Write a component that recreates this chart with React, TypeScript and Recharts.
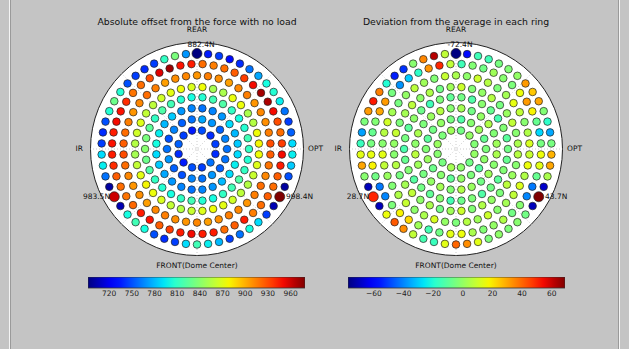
import React from "react";
import { ScatterChart, Scatter, XAxis, YAxis, ReferenceLine, ReferenceArea } from "recharts";

// actuator layout: 8 rings, counted from the centre outward
const ringCounts = [12, 18, 24, 30, 36, 42, 48, 54];
const ringRadius = [73, 115, 157, 199, 238, 282, 326, 366]; // cm
const ringStart = [15, 0, 7.5, 0, 5, 4.2857, 3.75, 90]; // deg of first actuator, counter-clockwise
const fixedIdx = [0, 18, 36]; // fixed points in the outer ring
const mirrorRadius = 410;

// absolute offset (N), one array per ring
const absRing1 = [745, 740, 750, 735, 745, 755, 740, 735, 750, 745, 760, 740];
const absRing2 = [760, 765, 755, 770, 775, 760, 755, 765, 750, 760, 770, 755, 750, 765, 760, 770, 755, 760];
const absRing3 = [785, 780, 790, 770, 765, 760, 765, 770, 785, 780, 795, 800, 790, 785, 775, 770, 765, 760, 765, 770, 780, 790, 795, 790];
const absRing4 = [810, 815, 805, 800, 810, 820, 815, 805, 800, 805, 815, 820, 810, 825, 835, 840, 830, 820, 810, 805, 800, 810, 815, 805, 800, 810, 815, 820, 810, 805];
const absRing5 = [878, 876, 855, 852, 875, 874, 852, 850, 876, 868, 876, 872, 865, 858, 860, 870, 865, 855, 850, 860, 872, 878, 875, 868, 860, 855, 862, 870, 876, 872, 865, 858, 855, 862, 870, 876];
const absRing6 = [930, 915, 910, 912, 908, 915, 912, 905, 910, 915, 908, 912, 910, 905, 915, 920, 912, 908, 915, 920, 925, 930, 920, 912, 908, 910, 905, 912, 915, 910, 908, 912, 905, 910, 915, 912, 908, 915, 920, 912, 918, 925];
const absRing7 = [935, 920, 930, 950, 968, 970, 950, 935, 925, 920, 915, 920, 945, 948, 972, 955, 930, 920, 918, 940, 948, 950, 945, 948, 945, 940, 925, 920, 918, 922, 945, 948, 925, 935, 945, 950, 945, 945, 920, 925, 945, 915, 920, 925, 920, 925, 945, 950];
const absRing8 = [692, 770, 835, 810, 745, 740, 745, 750, 805, 830, 805, 750, 740, 745, 790, 795, 760, 700, 960, 705, 800, 815, 800, 750, 740, 745, 790, 815, 795, 780, 745, 760, 800, 790, 745, 705, 979, 700, 750, 785, 795, 790, 755, 745, 760, 795, 805, 800, 775, 760, 740, 730, 745, 735];

// deviation from the ring average (N)
const devRing1 = [-3, 0, -6, 2, -4, 1, -2, -5, 3, -1, -6, 0];
const devRing2 = [-4, -8, 2, -2, -12, -5, 0, -6, -10, -3, 1, -7, -2, -9, 0, -4, -11, -1];
const devRing3 = [2, -3, 5, 0, -6, 3, -2, 6, 1, -4, 4, -1, 7, 2, -5, 0, 3, -3, 5, 1, -6, 2, -2, 4];
const devRing4 = [-6, -10, -3, -14, -8, -2, -12, -6, -9, -4, -15, -7, -1, -10, -5, -13, -8, -3, -11, -6, -9, -2, -14, -7, -4, -12, -6, -10, -3, -8];
const devRing5 = [4, -2, 8, 1, -5, 6, 0, -3, 10, 2, -6, 5, -1, 7, 3, -4, 9, 0, -2, 6, -5, 3, 8, -1, 4, -6, 2, 10, -3, 5, 0, -4, 7, 1, -2, 6];
const devRing6 = [12, 5, -2, 8, 15, 3, -4, 6, 10, -1, 4, 9, -3, 2, 7, 0, -5, 3, 11, 6, -2, 14, 8, 1, -3, 5, 9, -1, 4, 12, 0, -4, 6, 2, 10, -2, 3, 8, 13, 5, 16, 9];
const devRing7 = [-5, -28, -8, 18, 32, 16, -4, -2, 2, -6, -3, -15, 8, 50, 33, -18, -30, -38, -5, 32, 30, -3, -8, -5, 15, 18, -6, -42, -40, -4, 18, 22, 2, -14, -6, 14, 16, 4, -3, 0, 5, -6, -2, -40, -42, -8, 14, 16];
const devRing8 = [-77.5, 8, 62, 35, -2, -52, -55, -20, 36, 52, 32, -4, -36, -16, 14, 30, -2, -70, 50, -70, 16, 42, 34, 8, -14, -16, 14, 40, 34, 14, -4, -1, -4, -2, -6, -70, 69, -68, 4, 30, 28, -5, -35, -18, -3, 30, 25, 32, 0, -3, -5, -15, -15, -58];

const absRange = [692, 979];
const devRange = [-77.5, 69];
const absTicks = [720, 750, 780, 810, 840, 870, 900, 930, 960];
const devTicks = [-60, -40, -20, 0, 20, 40, 60];
const absFixedLabels = ["882.4N", "983.5N", "998.4N"];
const devFixedLabels = ["-72.4N", "28.7N", "43.7N"];

const FONT = "DejaVu Sans, sans-serif";
const RPX = 107;
const CY = 148.5;
const LEFT_CX = 197;
const RIGHT_CX = 456;

function lerp(pts: number[][], t: number) {
  for (let i = 1; i < pts.length; i++) {
    if (t <= pts[i][0]) {
      const [x0, y0] = pts[i - 1];
      const [x1, y1] = pts[i];
      return y0 + ((y1 - y0) * (t - x0)) / (x1 - x0);
    }
  }
  return pts[pts.length - 1][1];
}

function jet(t: number) {
  t = Math.max(0, Math.min(1, t));
  const r = lerp([[0, 0], [0.35, 0], [0.66, 1], [0.89, 1], [1, 0.5]], t);
  const g = lerp([[0, 0], [0.125, 0], [0.375, 1], [0.64, 1], [0.91, 0], [1, 0]], t);
  const b = lerp([[0, 0.5], [0.11, 1], [0.34, 1], [0.65, 0], [1, 0]], t);
  return `rgb(${Math.round(r * 255)},${Math.round(g * 255)},${Math.round(b * 255)})`;
}

function buildPoints(rings: number[][]) {
  const pts: { x: number; y: number; v: number; fixed: boolean }[] = [];
  rings.forEach((vals, i) => {
    vals.forEach((v, j) => {
      const a = ((ringStart[i] + (j * 360) / ringCounts[i]) * Math.PI) / 180;
      pts.push({
        x: ringRadius[i] * Math.cos(a),
        y: ringRadius[i] * Math.sin(a),
        v,
        fixed: i === 7 && fixedIdx.includes(j),
      });
    });
  });
  return pts;
}

const absPoints = buildPoints([absRing1, absRing2, absRing3, absRing4, absRing5, absRing6, absRing7, absRing8]);
const devPoints = buildPoints([devRing1, devRing2, devRing3, devRing4, devRing5, devRing6, devRing7, devRing8]);

const gridAngles = [0, 45, 90, 135];

function PolarMap({ cx, points, range }: { cx: number; points: any[]; range: number[] }) {
  const dot = (props: any) => {
    const { cx: px, cy: py, payload } = props;
    const t = (payload.v - range[0]) / (range[1] - range[0]);
    return (
      <circle cx={px} cy={py} r={payload.fixed ? 5 : 3.8} fill={jet(t)} stroke="#222" strokeWidth={0.7} />
    );
  };
  return (
    <>
      <div
        style={{
          position: "absolute",
          left: cx - RPX,
          top: CY - RPX,
          width: 2 * RPX,
          height: 2 * RPX,
          borderRadius: "50%",
          background: "#fff",
          border: "1px solid #222",
          boxSizing: "border-box",
        }}
      />
      <div style={{ position: "absolute", left: cx - RPX, top: CY - RPX }}>
        <ScatterChart width={2 * RPX} height={2 * RPX} margin={{ top: 0, right: 0, bottom: 0, left: 0 }}>
          <XAxis type="number" dataKey="x" domain={[-mirrorRadius, mirrorRadius]} hide />
          <YAxis type="number" dataKey="y" domain={[-mirrorRadius, mirrorRadius]} hide />
          {gridAngles.map((a) => {
            const c = Math.cos((a * Math.PI) / 180) * mirrorRadius;
            const s = Math.sin((a * Math.PI) / 180) * mirrorRadius;
            return (
              <ReferenceLine
                key={a}
                segment={[{ x: -c, y: -s }, { x: c, y: s }]}
                stroke="#aaa"
                strokeWidth={0.6}
                strokeDasharray="1 2"
              />
            );
          })}
          <Scatter data={points.filter((p) => !p.fixed)} shape={dot} isAnimationActive={false} />
          <Scatter data={points.filter((p) => p.fixed)} shape={dot} isAnimationActive={false} />
        </ScatterChart>
      </div>
    </>
  );
}

function ColorBar({ left, range, ticks, id }: { left: number; range: number[]; ticks: number[]; id: string }) {
  const stops = Array.from({ length: 21 }, (_, i) => i / 20);
  return (
    <div style={{ position: "absolute", left, top: 277 }}>
      <ScatterChart width={217} height={30} margin={{ top: 0, right: 0, bottom: 0, left: 0 }}>
        <defs>
          <linearGradient id={id} x1="0" x2="1" y1="0" y2="0">
            {stops.map((t) => (
              <stop key={t} offset={t} stopColor={jet(t)} />
            ))}
          </linearGradient>
        </defs>
        <XAxis
          type="number"
          dataKey="x"
          domain={range}
          ticks={ticks}
          height={19}
          axisLine={false}
          tickLine={false}
          tickSize={3}
          tickMargin={0}
          interval={0}
          tickFormatter={(v: number) => String(v).replace("-", "\u2212")}
          tick={{ fontSize: 7.5, fill: "#222", fontFamily: FONT }}
        />
        <YAxis type="number" dataKey="y" domain={[0, 1]} hide />
        <ReferenceArea x1={range[0]} x2={range[1]} y1={0} y2={1} fill={`url(#${id})`} fillOpacity={1} stroke="#333" strokeWidth={0.8} />
        <Scatter data={ticks.map((t) => ({ x: t, y: 0.5 }))} shape={() => <g />} isAnimationActive={false} />
      </ScatterChart>
    </div>
  );
}

function Labels({ cx, title, fixed }: { cx: number; title: string; fixed: string[] }) {
  const s = 7.5;
  return (
    <g fontFamily={FONT} fill="#111">
      <text x={cx} y={24.5} fontSize={9.3} textAnchor="middle">{title}</text>
      <text x={cx} y={32} fontSize={s} textAnchor="middle">REAR</text>
      <text x={cx} y={268} fontSize={s} textAnchor="middle">FRONT(Dome Center)</text>
      <text x={cx - RPX - 7} y={150.5} fontSize={s} textAnchor="end">IR</text>
      <text x={cx + RPX + 4} y={150.5} fontSize={s} textAnchor="start">OPT</text>
      <text x={cx + 4} y={46.5} fontSize={s} textAnchor="middle">{fixed[0]}</text>
      <text x={cx - 87} y={198.5} fontSize={s} textAnchor="end">{fixed[1]}</text>
      <text x={cx + 89} y={198.5} fontSize={s} textAnchor="start">{fixed[2]}</text>
    </g>
  );
}

export default function App() {
  return (
    <div style={{ position: "fixed", left: 0, top: 0, width: 629, height: 349, background: "#c4c4c4", overflow: "hidden" }}>
      <div style={{ position: "absolute", left: 9, top: 0, width: 1, height: 349, background: "#f4f4f4" }} />
      <div style={{ position: "absolute", left: 10, top: 0, width: 1, height: 349, background: "#9a9a9a" }} />
      <div style={{ position: "absolute", left: 618, top: 0, width: 1, height: 349, background: "#9a9a9a" }} />
      <div style={{ position: "absolute", left: 619, top: 0, width: 1, height: 349, background: "#f4f4f4" }} />
      <PolarMap cx={LEFT_CX} points={absPoints} range={absRange} />
      <PolarMap cx={RIGHT_CX} points={devPoints} range={devRange} />
      <ColorBar left={88} range={absRange} ticks={absTicks} id="jetAbs" />
      <ColorBar left={348} range={devRange} ticks={devTicks} id="jetDev" />
      <svg width={629} height={349} style={{ position: "absolute", left: 0, top: 0, pointerEvents: "none" }}>
        <Labels cx={LEFT_CX} title="Absolute offset from the force with no load" fixed={absFixedLabels} />
        <Labels cx={RIGHT_CX} title="Deviation from the average in each ring" fixed={devFixedLabels} />
      </svg>
    </div>
  );
}
